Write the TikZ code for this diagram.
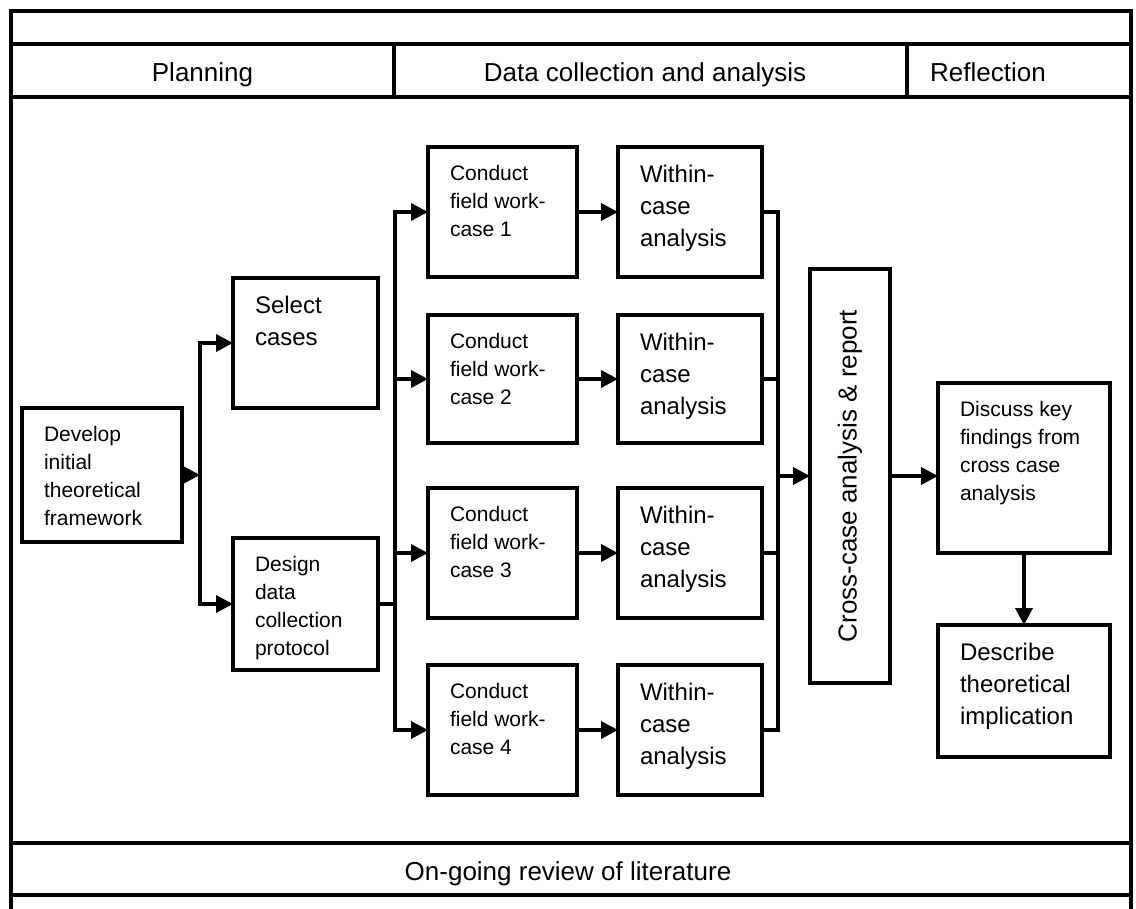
\documentclass[tikz,border=0pt]{standalone}
\usepackage{fontspec}
\setmainfont{Liberation Sans}
\usepackage{graphicx}
\usetikzlibrary{arrows.meta}

% text sizes used inside the process boxes
\newcommand{\smalltxt}{\fontsize{10.5pt}{14pt}\selectfont}
\newcommand{\largetxt}{\fontsize{12pt}{16pt}\selectfont}
% top-aligned, left-aligned text block of a fixed width and height
\newcommand{\cellbox}[3]{\parbox[t][#2][t]{#1}{\raggedright\vspace*{9pt}#3}}

\begin{document}
\begin{tikzpicture}[x=0.5pt,y=-0.5pt,
  frame/.style={line width=2pt},
  box/.style={draw, line width=2.3pt, inner xsep=11pt, inner ysep=0pt, outer sep=0pt},
  tallbox/.style={draw, line width=2.3pt, inner sep=0pt, outer sep=0pt,
                  minimum width=40pt, minimum height=207pt},
  link/.style={line width=1.8pt},
  arr/.style={link, -{Triangle[length=8.5pt,width=8.5pt]}},
  hdr/.style={font=\fontsize{13pt}{15pt}\selectfont, inner sep=0pt, anchor=base}]
\useasboundingbox (0,0) rectangle (1136,909);

% outer frame, phase header row and literature row
\draw[frame] (11,909) -- (11,11) -- (1131,11) -- (1131,909);
\draw[frame] (11,44) -- (1131,44);
\draw[frame] (11,97) -- (1131,97);
\draw[frame] (394,44) -- (394,97);
\draw[frame] (907,44) -- (907,97);
\draw[frame] (11,843) -- (1131,843);
\draw[frame] (11,895) -- (1131,895);

\node[hdr] (plan) at (202.5,82) {Planning};
\node[hdr] (data) at (645,82) {Data collection and analysis};
\node[hdr] (refl) at (988,82) {Reflection};
\node[hdr] (lit)  at (568,880) {On-going review of literature};

% planning stage
\node[box] (dev) at (102,475)
  {\cellbox{58pt}{67pt}{\smalltxt Develop\\ initial\\ theoretical\\ framework}};
\node[box] (sel) at (305.5,343)
  {\cellbox{50.5pt}{65pt}{\largetxt Select\\ cases}};
\node[box] (des) at (305.5,604)
  {\cellbox{50.5pt}{66pt}{\smalltxt Design\\ data\\ collection\\ protocol}};

% field work and within-case analysis
\node[box] (c1) at (502.5,212)
  {\cellbox{52.5pt}{65pt}{\smalltxt Conduct\\ field work-\\ case 1}};
\node[box] (c2) at (502.5,379)
  {\cellbox{52.5pt}{64pt}{\smalltxt Conduct\\ field work-\\ case 2}};
\node[box] (c3) at (502.5,553)
  {\cellbox{52.5pt}{65pt}{\smalltxt Conduct\\ field work-\\ case 3}};
\node[box] (c4) at (502.5,730)
  {\cellbox{52.5pt}{65pt}{\smalltxt Conduct\\ field work-\\ case 4}};

\node[box] (w1) at (690,212)
  {\cellbox{50pt}{65pt}{\largetxt Within-\\ case\\ analysis}};
\node[box] (w2) at (690,379)
  {\cellbox{50pt}{64pt}{\largetxt Within-\\ case\\ analysis}};
\node[box] (w3) at (690,553)
  {\cellbox{50pt}{65pt}{\largetxt Within-\\ case\\ analysis}};
\node[box] (w4) at (690,730)
  {\cellbox{50pt}{65pt}{\largetxt Within-\\ case\\ analysis}};

% cross-case analysis and reflection
\node[tallbox] (cross) at (850,476)
  {\rotatebox{90}{\fontsize{13pt}{15pt}\selectfont Cross-case analysis \& report}};
\node[box] (disc) at (1024,468)
  {\cellbox{64pt}{85pt}{\smalltxt Discuss key\\ findings from\\ cross case\\ analysis}};
\node[box] (descr) at (1024,691)
  {\cellbox{64pt}{66pt}{\largetxt Describe\\ theoretical\\ implication}};

% connectors
\coordinate (s1) at (200,475);
\draw[arr] (dev.east) -- (s1);
\draw[arr] (s1) |- (sel.west);
\draw[arr] (s1) |- (des.west);

\path (des.east) ++(17,0) coordinate (s2);
\draw[link] (des.east) -- (s2);
\draw[arr] (s2) |- (c1.west);
\draw[arr] (s2) |- (c2.west);
\draw[arr] (s2) |- (c3.west);
\draw[arr] (s2) |- (c4.west);

\draw[arr] (c1.east) -- (c1.east -| w1.west);
\draw[arr] (c2.east) -- (c2.east -| w2.west);
\draw[arr] (c3.east) -- (c3.east -| w3.west);
\draw[arr] (c4.east) -- (c4.east -| w4.west);

\coordinate (m) at (778,476);
\draw[link] (w1.east) -| (m);
\draw[link] (w4.east) -| (m);
\draw[link] (w2.east) -- (w2.east -| m);
\draw[link] (w3.east) -- (w3.east -| m);
\draw[arr] (m) -- (cross.west);

\draw[arr] (cross.east) -- (cross.east -| disc.west);
\draw[arr] (disc.south) -- (descr.north);
\end{tikzpicture}
\end{document}
